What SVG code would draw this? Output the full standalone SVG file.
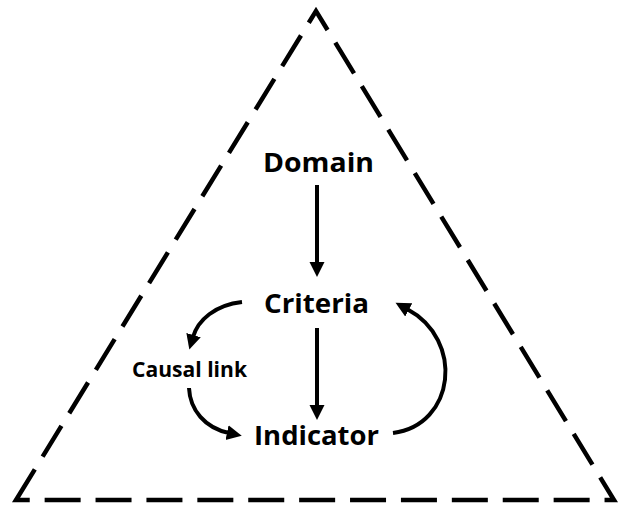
<svg xmlns="http://www.w3.org/2000/svg" width="621" height="506" viewBox="0 0 621 506">
  <style>
    .label { font-family: "Open Sans", "Noto Sans", "Liberation Sans", sans-serif; font-weight: 700; fill: #000; }
    .big { font-size: 27px; }
    .small { font-size: 21px; }
    .link { fill: none; stroke: #000; stroke-width: 4; }
    .frame { fill: none; stroke: #000; stroke-width: 4.5; stroke-dasharray: 36 14.9; stroke-linejoin: miter; }
  </style>
  <defs>
    <marker id="arrow" markerUnits="userSpaceOnUse" markerWidth="16" markerHeight="16" refX="2" refY="7.5" orient="auto">
      <path d="M0,0 L15,7.5 L0,15 Z" fill="#000"/>
    </marker>
  </defs>
  <rect width="621" height="506" fill="#fff"/>

  <!-- dashed triangular frame -->
  <g id="frame">
    <path class="frame" d="M16,500 L316,11 L614,500 Z"/>
  </g>

  <!-- connectors -->
  <g id="connectors">
    <path class="link" marker-end="url(#arrow)" d="M317,185 L317,264"/>
    <path class="link" marker-end="url(#arrow)" d="M317,328 L317,407"/>
    <path class="link" marker-end="url(#arrow)" d="M242,302 C215,305 198,320 193,337"/>
    <path class="link" marker-end="url(#arrow)" d="M189,388 C190,410 205,428 229,433"/>
    <path class="link" marker-end="url(#arrow)" d="M393,433 C455,425 465,340 407,309"/>
  </g>

  <!-- nodes -->
  <g id="domain">
    <text class="label big" x="263" y="172" textLength="111" lengthAdjust="spacingAndGlyphs">Domain</text>
  </g>
  <g id="criteria">
    <text class="label big" x="264" y="313" textLength="105" lengthAdjust="spacingAndGlyphs">Criteria</text>
  </g>
  <g id="causal-link">
    <text class="label small" x="132" y="377" textLength="115" lengthAdjust="spacingAndGlyphs">Causal link</text>
  </g>
  <g id="indicator">
    <text class="label big" x="254" y="445" textLength="125" lengthAdjust="spacingAndGlyphs">Indicator</text>
  </g>
</svg>
